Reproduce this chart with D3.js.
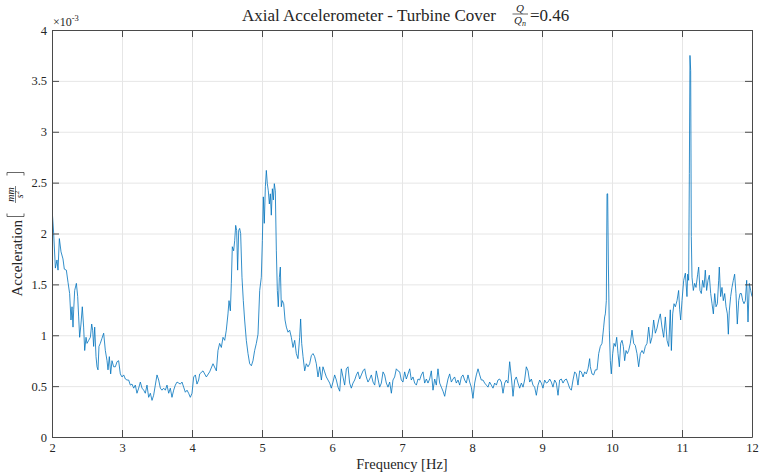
<!DOCTYPE html>
<html>
<head>
<meta charset="utf-8">
<script src="https://cdn.jsdelivr.net/npm/d3@7"></script>
<style>
  body { margin: 0; background: #fff; }
  svg { display: block; }
  text { font-family: "Liberation Serif", "Times New Roman", serif; fill: #262626; }
</style>
</head>
<body>
<svg id="chart" width="766" height="474"></svg>
<script>
// Spectrum of the axial accelerometer on the turbine cover (amplitude in units of 1e-3)
const freqHz = [
  2.000,2.024,2.048,2.071,2.086,2.105,2.129,2.157,2.176,2.205,
  2.229,2.252,2.271,2.286,2.300,2.310,2.324,2.348,2.367,2.381,
  2.395,2.414,2.433,2.452,2.467,2.486,2.500,2.524,2.548,2.567,
  2.581,2.595,2.610,2.629,2.643,2.657,2.671,2.690,2.714,2.738,
  2.762,2.786,2.800,2.819,2.838,2.857,2.881,2.905,2.929,2.952,
  2.976,3.000,3.024,3.048,3.071,3.095,3.119,3.143,3.167,3.190,
  3.214,3.238,3.262,3.286,3.310,3.333,3.357,3.381,3.405,3.429,
  3.452,3.476,3.500,3.524,3.548,3.571,3.595,3.619,3.643,3.667,
  3.690,3.714,3.738,3.762,3.786,3.810,3.833,3.857,3.881,3.905,
  3.929,3.952,3.976,4.000,4.024,4.048,4.071,4.095,4.110,4.157,
  4.205,4.252,4.300,4.348,4.371,4.395,4.419,4.443,4.467,4.490,
  4.514,4.529,4.548,4.562,4.576,4.595,4.610,4.624,4.638,4.652,
  4.667,4.681,4.695,4.714,4.733,4.752,4.776,4.800,4.824,4.848,
  4.871,4.895,4.919,4.943,4.967,4.990,5.005,5.019,5.033,5.048,
  5.062,5.076,5.090,5.105,5.119,5.133,5.148,5.162,5.176,5.190,
  5.205,5.219,5.233,5.248,5.262,5.276,5.290,5.310,5.329,5.348,
  5.371,5.395,5.419,5.443,5.467,5.490,5.514,5.538,5.552,5.567,
  5.586,5.610,5.633,5.657,5.681,5.705,5.729,5.752,5.776,5.800,
  5.824,5.848,5.871,5.895,5.919,5.943,5.967,5.990,6.014,6.038,
  6.062,6.086,6.110,6.133,6.157,6.181,6.205,6.229,6.252,6.276,
  6.300,6.324,6.348,6.371,6.395,6.419,6.443,6.467,6.490,6.514,
  6.538,6.562,6.586,6.610,6.633,6.657,6.681,6.705,6.729,6.752,
  6.776,6.800,6.824,6.848,6.871,6.895,6.919,6.943,6.967,6.990,
  7.014,7.038,7.062,7.086,7.110,7.133,7.157,7.181,7.205,7.229,
  7.252,7.276,7.300,7.324,7.348,7.371,7.395,7.419,7.443,7.467,
  7.490,7.514,7.538,7.562,7.586,7.610,7.633,7.657,7.681,7.705,
  7.729,7.752,7.776,7.800,7.824,7.848,7.871,7.895,7.919,7.943,
  7.967,7.990,8.014,8.038,8.062,8.086,8.110,8.133,8.157,8.181,
  8.205,8.229,8.252,8.276,8.300,8.324,8.348,8.371,8.395,8.419,
  8.443,8.467,8.490,8.514,8.538,8.562,8.586,8.610,8.633,8.657,
  8.681,8.705,8.729,8.752,8.776,8.800,8.824,8.848,8.871,8.895,
  8.919,8.943,8.967,8.990,9.014,9.038,9.062,9.086,9.110,9.133,
  9.157,9.181,9.205,9.229,9.252,9.276,9.300,9.324,9.348,9.371,
  9.395,9.419,9.443,9.467,9.490,9.514,9.538,9.562,9.586,9.610,
  9.633,9.657,9.681,9.690,9.714,9.738,9.762,9.786,9.810,9.833,
  9.857,9.881,9.895,9.905,9.919,9.929,9.938,9.948,9.962,9.976,
  9.990,10.010,10.029,10.048,10.067,10.086,10.105,10.124,10.143,10.162,
  10.181,10.200,10.219,10.238,10.262,10.286,10.310,10.333,10.357,10.381,
  10.405,10.429,10.452,10.476,10.500,10.524,10.548,10.571,10.595,10.619,
  10.643,10.667,10.690,10.714,10.738,10.762,10.786,10.810,10.833,10.848,
  10.867,10.886,10.905,10.929,10.952,10.967,10.981,11.000,11.024,11.048,
  11.071,11.081,11.095,11.105,11.114,11.124,11.133,11.143,11.162,11.181,
  11.200,11.224,11.238,11.257,11.276,11.295,11.314,11.333,11.352,11.371,
  11.390,11.410,11.429,11.448,11.467,11.486,11.505,11.524,11.533,11.552,
  11.571,11.590,11.610,11.629,11.648,11.662,11.676,11.695,11.714,11.733,
  11.752,11.771,11.790,11.810,11.829,11.848,11.867,11.886,11.905,11.924,
  11.943,11.962,11.981,12.000
];

const accel = [
  2.25,2.00,1.66,1.74,1.64,1.95,1.82,1.75,1.65,1.64,
  1.52,1.41,1.15,1.28,1.08,1.25,1.44,1.51,1.38,1.18,
  0.98,1.11,1.28,1.08,0.85,0.98,0.92,0.95,0.98,1.11,
  1.05,0.89,1.08,0.79,0.69,0.66,0.89,0.92,0.97,1.02,
  0.85,0.75,0.66,0.79,0.62,0.75,0.69,0.69,0.74,0.75,
  0.62,0.59,0.61,0.57,0.56,0.56,0.51,0.52,0.48,0.51,
  0.43,0.48,0.54,0.48,0.46,0.43,0.51,0.39,0.43,0.36,
  0.41,0.51,0.61,0.56,0.48,0.46,0.48,0.46,0.51,0.43,
  0.48,0.39,0.46,0.51,0.54,0.53,0.52,0.54,0.49,0.44,
  0.46,0.43,0.39,0.43,0.59,0.61,0.52,0.56,0.62,0.65,
  0.59,0.64,0.72,0.65,0.85,0.92,0.88,0.98,0.95,1.05,
  1.21,1.34,1.24,1.51,1.87,1.83,1.93,2.08,2.03,1.64,
  2.03,2.05,2.00,1.57,1.34,1.15,0.95,0.82,0.72,0.70,
  0.75,0.85,0.92,1.01,1.44,1.57,1.93,2.36,2.10,2.46,
  2.62,2.49,2.42,2.29,2.39,2.18,2.44,2.33,2.49,2.42,
  1.83,1.44,1.28,1.57,1.67,1.28,1.34,1.31,1.15,1.08,
  1.03,1.05,0.98,0.88,0.95,0.82,0.77,0.98,1.16,0.92,
  0.79,0.65,0.72,0.69,0.72,0.80,0.82,0.79,0.72,0.59,
  0.69,0.56,0.69,0.64,0.59,0.56,0.53,0.48,0.54,0.61,
  0.56,0.49,0.45,0.67,0.59,0.51,0.67,0.69,0.53,0.48,
  0.53,0.56,0.61,0.64,0.57,0.61,0.65,0.67,0.59,0.54,
  0.57,0.61,0.54,0.51,0.65,0.57,0.49,0.53,0.64,0.61,
  0.53,0.49,0.54,0.43,0.56,0.59,0.67,0.65,0.64,0.56,
  0.54,0.64,0.57,0.62,0.67,0.56,0.59,0.53,0.51,0.57,
  0.56,0.61,0.64,0.53,0.57,0.53,0.57,0.65,0.46,0.57,
  0.51,0.67,0.53,0.49,0.45,0.40,0.49,0.57,0.62,0.54,
  0.57,0.59,0.53,0.56,0.51,0.59,0.61,0.56,0.53,0.61,
  0.54,0.49,0.38,0.53,0.61,0.67,0.61,0.56,0.56,0.53,
  0.51,0.49,0.54,0.51,0.48,0.53,0.51,0.56,0.57,0.54,
  0.43,0.53,0.56,0.53,0.74,0.59,0.40,0.56,0.59,0.53,
  0.48,0.53,0.49,0.56,0.69,0.65,0.54,0.57,0.51,0.49,
  0.41,0.51,0.56,0.53,0.48,0.56,0.53,0.54,0.57,0.54,
  0.49,0.56,0.53,0.41,0.56,0.57,0.53,0.56,0.57,0.53,
  0.48,0.46,0.56,0.64,0.62,0.51,0.65,0.64,0.59,0.64,
  0.62,0.67,0.77,0.69,0.62,0.61,0.66,0.66,0.82,0.89,
  0.92,1.08,1.18,1.21,1.34,2.39,2.39,1.70,1.05,0.75,
  0.62,0.82,0.92,0.89,0.98,0.82,0.69,0.92,0.95,0.89,
  0.75,0.85,0.82,0.85,0.92,1.05,0.92,0.90,0.82,0.69,
  0.82,0.85,0.82,0.89,0.92,1.08,0.92,0.98,1.15,1.02,
  1.07,1.15,1.21,1.08,0.98,1.18,0.95,0.89,1.25,0.85,
  1.21,1.31,1.28,1.34,1.44,1.25,1.15,1.34,1.54,1.61,
  1.38,1.60,1.54,2.59,3.75,3.60,1.97,1.57,1.44,1.51,
  1.47,1.60,1.67,1.44,1.41,1.54,1.47,1.64,1.44,1.54,
  1.59,1.41,1.31,1.21,1.41,1.28,1.31,1.54,1.67,1.38,
  1.47,1.34,1.41,1.28,1.21,1.01,1.24,1.38,1.47,1.54,
  1.60,1.41,1.11,1.34,1.41,1.41,1.34,1.31,1.34,1.54,
  1.13,1.51,1.44,1.38
];

const xTicks = [2, 3, 4, 5, 6, 7, 8, 9, 10, 11, 12];
const yTicks = [0, 0.5, 1, 1.5, 2, 2.5, 3, 3.5, 4];
const yTickLabels = ["0", "0.5", "1", "1.5", "2", "2.5", "3", "3.5", "4"];
const xDomain = [2, 12];
const yDomain = [0, 4];

const titleMain = "Axial Accelerometer - Turbine Cover";
const titleRatio = "=0.46";
const xLabel = "Frequency [Hz]";
const yLabel = "Acceleration";

if (freqHz.length !== accel.length) {
  throw new Error("series length mismatch: " + freqHz.length + " vs " + accel.length);
}

const serif = '"Liberation Serif", "Times New Roman", serif';
const svg = d3.select("#chart").attr("font-family", serif);
const plot = { left: 52, right: 752, top: 30, bottom: 437 };

const x = d3.scaleLinear().domain(xDomain).range([plot.left, plot.right]);
const y = d3.scaleLinear().domain(yDomain).range([plot.bottom, plot.top]);

const axisColor = "#4a4a4a";
const gridColor = "#e6e6e6";
const inkColor = "#262626";

// grid
svg.append("g")
  .attr("transform", `translate(0,${plot.bottom})`)
  .call(d3.axisBottom(x).tickValues(xTicks).tickSize(-(plot.bottom - plot.top)).tickFormat(""))
  .call(g => g.select(".domain").remove())
  .call(g => g.selectAll("line").attr("stroke", gridColor));
svg.append("g")
  .attr("transform", `translate(${plot.left},0)`)
  .call(d3.axisLeft(y).tickValues(yTicks).tickSize(-(plot.right - plot.left)).tickFormat(""))
  .call(g => g.select(".domain").remove())
  .call(g => g.selectAll("line").attr("stroke", gridColor));

// spectrum line
svg.append("clipPath").attr("id", "plotClip")
  .append("rect")
  .attr("x", plot.left).attr("y", plot.top)
  .attr("width", plot.right - plot.left).attr("height", plot.bottom - plot.top);

const series = d3.zip(freqHz, accel);
svg.append("path")
  .datum(series)
  .attr("clip-path", "url(#plotClip)")
  .attr("fill", "none")
  .attr("stroke", "#0072BD")
  .attr("stroke-width", 0.8)
  .attr("stroke-linejoin", "round")
  .attr("d", d3.line().x(d => x(d[0])).y(d => y(d[1])));

// axes box with inward ticks
const tickLen = 7;
function styleAxis(g) {
  g.attr("font-family", serif).attr("font-size", 12.5);
  g.select(".domain").attr("stroke", axisColor).attr("stroke-width", 1);
  g.selectAll(".tick line").attr("stroke", axisColor);
  g.selectAll(".tick text").attr("fill", inkColor);
}
svg.append("g")
  .attr("transform", `translate(0,${plot.bottom})`)
  .call(d3.axisBottom(x).tickValues(xTicks).tickFormat(d3.format("d"))
    .tickSizeInner(-tickLen).tickSizeOuter(0).tickPadding(6))
  .call(styleAxis);
svg.append("g")
  .attr("transform", `translate(0,${plot.top})`)
  .call(d3.axisTop(x).tickValues(xTicks).tickFormat("")
    .tickSizeInner(-tickLen).tickSizeOuter(0))
  .call(styleAxis);
svg.append("g")
  .attr("transform", `translate(${plot.left},0)`)
  .call(d3.axisLeft(y).tickValues(yTicks).tickFormat((d, i) => yTickLabels[i])
    .tickSizeInner(-tickLen).tickSizeOuter(0).tickPadding(5))
  .call(styleAxis);
svg.append("g")
  .attr("transform", `translate(${plot.right},0)`)
  .call(d3.axisRight(y).tickValues(yTicks).tickFormat("")
    .tickSizeInner(-tickLen).tickSizeOuter(0))
  .call(styleAxis);

// exponent marker
const expo = svg.append("text").attr("x", 53).attr("y", 25.5).attr("font-size", 12);
expo.append("tspan").text("×10");
expo.append("tspan").attr("font-size", 8.5).attr("dy", -5).text("-3");

// title with Q/Qn fraction
const title = svg.append("g");
title.append("text")
  .attr("x", 496).attr("y", 21)
  .attr("text-anchor", "end")
  .attr("font-size", 17)
  .text(titleMain);
title.append("text")
  .attr("x", 520).attr("y", 11.5)
  .attr("text-anchor", "middle")
  .attr("font-size", 11).attr("font-style", "italic")
  .text("Q");
title.append("line")
  .attr("x1", 512.5).attr("x2", 528).attr("y1", 14).attr("y2", 14)
  .attr("stroke", inkColor).attr("stroke-width", 0.7);
const qn = title.append("text")
  .attr("x", 520).attr("y", 23.5)
  .attr("text-anchor", "middle")
  .attr("font-size", 11).attr("font-style", "italic");
qn.append("tspan").text("Q");
qn.append("tspan").attr("font-size", 8).attr("dy", 2).text("n");
title.append("text")
  .attr("x", 530).attr("y", 21)
  .attr("font-size", 17)
  .text(titleRatio);

// x label
svg.append("text")
  .attr("x", (plot.left + plot.right) / 2).attr("y", 468.5)
  .attr("text-anchor", "middle")
  .attr("font-size", 14.5)
  .text(xLabel);

// y label: "Acceleration [mm / s^2]", rotated
const yl = svg.append("g").attr("transform", `translate(22,${(plot.top + plot.bottom) / 2}) rotate(-90)`);
yl.append("text")
  .attr("x", -63).attr("y", 0)
  .attr("font-size", 15)
  .text(yLabel);
const bx0 = 17, bx1 = 61, byTop = -15, byBot = 2;
yl.append("path")
  .attr("d", `M${bx0 + 3},${byTop} H${bx0} V${byBot} H${bx0 + 3}`)
  .attr("fill", "none").attr("stroke", inkColor).attr("stroke-width", 0.7);
yl.append("path")
  .attr("d", `M${bx1 - 3},${byTop} H${bx1} V${byBot} H${bx1 - 3}`)
  .attr("fill", "none").attr("stroke", inkColor).attr("stroke-width", 0.7);
const fracCx = (bx0 + bx1) / 2;
yl.append("text")
  .attr("x", fracCx).attr("y", -8)
  .attr("text-anchor", "middle")
  .attr("font-size", 10).attr("font-style", "italic")
  .text("mm");
yl.append("line")
  .attr("x1", fracCx - 8.5).attr("x2", fracCx + 8.5).attr("y1", -6.5).attr("y2", -6.5)
  .attr("stroke", inkColor).attr("stroke-width", 0.6);
const s2 = yl.append("text")
  .attr("x", fracCx).attr("y", 0.5)
  .attr("text-anchor", "middle")
  .attr("font-size", 10).attr("font-style", "italic");
s2.append("tspan").text("s");
s2.append("tspan").attr("font-size", 7).attr("dy", -3.5).attr("font-style", "normal").text("2");
</script>
</body>
</html>
